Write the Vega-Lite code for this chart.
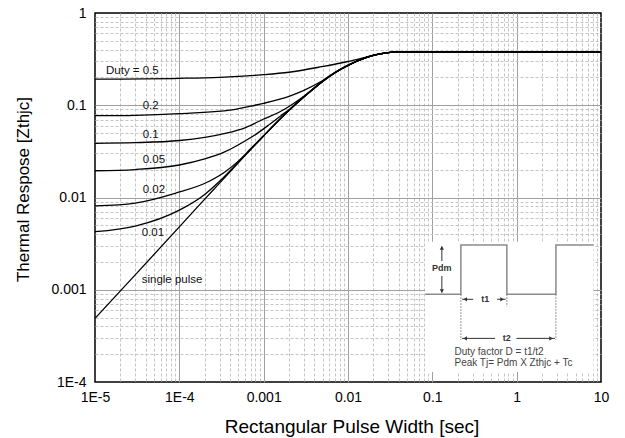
{
  "$schema": "https://vega.github.io/schema/vega-lite/v6.json",
  "width": 506,
  "height": 369,
  "autosize": "none",
  "padding": {"left": 95, "top": 13, "right": 24, "bottom": 56},
  "background": "white",
  "config": {
    "font": "Liberation Sans",
    "view": {"stroke": "#000", "strokeWidth": 1.5}
  },
  "datasets": {
    "curves": [
      {"s": "single", "x": 0.00001, "y": 0.00049},
      {"s": "single", "x": 0.00003, "y": 0.00145},
      {"s": "single", "x": 0.0001, "y": 0.0048},
      {"s": "single", "x": 0.0002, "y": 0.0096},
      {"s": "single", "x": 0.0003, "y": 0.0143},
      {"s": "single", "x": 0.0005, "y": 0.0238},
      {"s": "single", "x": 0.001, "y": 0.0465},
      {"s": "single", "x": 0.0015, "y": 0.068},
      {"s": "single", "x": 0.002, "y": 0.088},
      {"s": "single", "x": 0.003, "y": 0.123},
      {"s": "single", "x": 0.005, "y": 0.181},
      {"s": "single", "x": 0.007, "y": 0.225},
      {"s": "single", "x": 0.01, "y": 0.27},
      {"s": "single", "x": 0.016, "y": 0.3255},
      {"s": "single", "x": 0.02, "y": 0.3465},
      {"s": "single", "x": 0.0275, "y": 0.367},
      {"s": "single", "x": 0.035, "y": 0.3765},
      {"s": "single", "x": 0.05, "y": 0.3798},
      {"s": "single", "x": 0.07, "y": 0.38},
      {"s": "single", "x": 10, "y": 0.38},

      {"s": "0.01", "x": 0.00001, "y": 0.00426},
      {"s": "0.01", "x": 0.00003, "y": 0.0049},
      {"s": "0.01", "x": 0.0001, "y": 0.0073},
      {"s": "0.01", "x": 0.0002, "y": 0.0108},
      {"s": "0.01", "x": 0.0003, "y": 0.015},
      {"s": "0.01", "x": 0.0005, "y": 0.0241},
      {"s": "0.01", "x": 0.001, "y": 0.0467},
      {"s": "0.01", "x": 0.0015, "y": 0.0682},
      {"s": "0.01", "x": 0.002, "y": 0.0882},
      {"s": "0.01", "x": 0.003, "y": 0.1232},
      {"s": "0.01", "x": 0.005, "y": 0.1812},
      {"s": "0.01", "x": 0.007, "y": 0.2252},
      {"s": "0.01", "x": 0.01, "y": 0.2702},
      {"s": "0.01", "x": 0.016, "y": 0.3257},
      {"s": "0.01", "x": 0.02, "y": 0.3467},
      {"s": "0.01", "x": 0.0275, "y": 0.3671},
      {"s": "0.01", "x": 0.035, "y": 0.3766},
      {"s": "0.01", "x": 0.05, "y": 0.3798},
      {"s": "0.01", "x": 0.07, "y": 0.38},
      {"s": "0.01", "x": 10, "y": 0.38},

      {"s": "0.02", "x": 0.00001, "y": 0.0081},
      {"s": "0.02", "x": 0.00003, "y": 0.0087},
      {"s": "0.02", "x": 0.000089, "y": 0.0111},
      {"s": "0.02", "x": 0.00022, "y": 0.0148},
      {"s": "0.02", "x": 0.00035, "y": 0.019},
      {"s": "0.02", "x": 0.0005, "y": 0.0248},
      {"s": "0.02", "x": 0.0007, "y": 0.0337},
      {"s": "0.02", "x": 0.001, "y": 0.0469},
      {"s": "0.02", "x": 0.0015, "y": 0.0684},
      {"s": "0.02", "x": 0.002, "y": 0.0884},
      {"s": "0.02", "x": 0.003, "y": 0.1234},
      {"s": "0.02", "x": 0.005, "y": 0.1814},
      {"s": "0.02", "x": 0.007, "y": 0.2254},
      {"s": "0.02", "x": 0.01, "y": 0.2704},
      {"s": "0.02", "x": 0.016, "y": 0.3258},
      {"s": "0.02", "x": 0.02, "y": 0.3468},
      {"s": "0.02", "x": 0.0275, "y": 0.3672},
      {"s": "0.02", "x": 0.035, "y": 0.3766},
      {"s": "0.02", "x": 0.05, "y": 0.3798},
      {"s": "0.02", "x": 0.07, "y": 0.38},
      {"s": "0.02", "x": 10, "y": 0.38},

      {"s": "0.05", "x": 0.00001, "y": 0.0195},
      {"s": "0.05", "x": 0.00003, "y": 0.0201},
      {"s": "0.05", "x": 0.0001, "y": 0.0225},
      {"s": "0.05", "x": 0.0002, "y": 0.0262},
      {"s": "0.05", "x": 0.00035, "y": 0.0314},
      {"s": "0.05", "x": 0.0006, "y": 0.041},
      {"s": "0.05", "x": 0.000865, "y": 0.0505},
      {"s": "0.05", "x": 0.0012, "y": 0.063},
      {"s": "0.05", "x": 0.0016, "y": 0.077},
      {"s": "0.05", "x": 0.002, "y": 0.0895},
      {"s": "0.05", "x": 0.003, "y": 0.1237},
      {"s": "0.05", "x": 0.005, "y": 0.1815},
      {"s": "0.05", "x": 0.007, "y": 0.2255},
      {"s": "0.05", "x": 0.01, "y": 0.2705},
      {"s": "0.05", "x": 0.016, "y": 0.3259},
      {"s": "0.05", "x": 0.02, "y": 0.3469},
      {"s": "0.05", "x": 0.0275, "y": 0.3673},
      {"s": "0.05", "x": 0.035, "y": 0.3767},
      {"s": "0.05", "x": 0.05, "y": 0.3798},
      {"s": "0.05", "x": 0.07, "y": 0.38},
      {"s": "0.05", "x": 10, "y": 0.38},

      {"s": "0.1", "x": 0.00001, "y": 0.0387},
      {"s": "0.1", "x": 0.00003, "y": 0.0393},
      {"s": "0.1", "x": 0.0001, "y": 0.0415},
      {"s": "0.1", "x": 0.00035, "y": 0.0496},
      {"s": "0.1", "x": 0.0006, "y": 0.057},
      {"s": "0.1", "x": 0.001, "y": 0.071},
      {"s": "0.1", "x": 0.0015, "y": 0.0835},
      {"s": "0.1", "x": 0.002, "y": 0.097},
      {"s": "0.1", "x": 0.0025, "y": 0.111},
      {"s": "0.1", "x": 0.003, "y": 0.1255},
      {"s": "0.1", "x": 0.004, "y": 0.154},
      {"s": "0.1", "x": 0.005, "y": 0.182},
      {"s": "0.1", "x": 0.007, "y": 0.2258},
      {"s": "0.1", "x": 0.01, "y": 0.2708},
      {"s": "0.1", "x": 0.016, "y": 0.326},
      {"s": "0.1", "x": 0.02, "y": 0.347},
      {"s": "0.1", "x": 0.0275, "y": 0.3674},
      {"s": "0.1", "x": 0.035, "y": 0.3767},
      {"s": "0.1", "x": 0.05, "y": 0.3798},
      {"s": "0.1", "x": 0.07, "y": 0.38},
      {"s": "0.1", "x": 10, "y": 0.38},

      {"s": "0.2", "x": 0.00001, "y": 0.077},
      {"s": "0.2", "x": 0.00003, "y": 0.0778},
      {"s": "0.2", "x": 0.0001, "y": 0.081},
      {"s": "0.2", "x": 0.00042, "y": 0.089},
      {"s": "0.2", "x": 0.00079, "y": 0.1},
      {"s": "0.2", "x": 0.001, "y": 0.105},
      {"s": "0.2", "x": 0.002, "y": 0.125},
      {"s": "0.2", "x": 0.003, "y": 0.145},
      {"s": "0.2", "x": 0.0049, "y": 0.183},
      {"s": "0.2", "x": 0.007, "y": 0.2265},
      {"s": "0.2", "x": 0.01, "y": 0.2725},
      {"s": "0.2", "x": 0.016, "y": 0.327},
      {"s": "0.2", "x": 0.02, "y": 0.3475},
      {"s": "0.2", "x": 0.0275, "y": 0.3676},
      {"s": "0.2", "x": 0.035, "y": 0.3767},
      {"s": "0.2", "x": 0.05, "y": 0.3798},
      {"s": "0.2", "x": 0.07, "y": 0.38},
      {"s": "0.2", "x": 10, "y": 0.38},

      {"s": "0.5", "x": 0.00001, "y": 0.192},
      {"s": "0.5", "x": 0.0001, "y": 0.196},
      {"s": "0.5", "x": 0.0003, "y": 0.201},
      {"s": "0.5", "x": 0.00079, "y": 0.211},
      {"s": "0.5", "x": 0.001, "y": 0.2145},
      {"s": "0.5", "x": 0.002, "y": 0.228},
      {"s": "0.5", "x": 0.0049, "y": 0.262},
      {"s": "0.5", "x": 0.01, "y": 0.298},
      {"s": "0.5", "x": 0.016, "y": 0.33},
      {"s": "0.5", "x": 0.02, "y": 0.35},
      {"s": "0.5", "x": 0.0275, "y": 0.3685},
      {"s": "0.5", "x": 0.035, "y": 0.3768},
      {"s": "0.5", "x": 0.05, "y": 0.3799},
      {"s": "0.5", "x": 0.07, "y": 0.38},
      {"s": "0.5", "x": 10, "y": 0.38}
    ],
    "labels": [
      {"x": 0.0000135, "y": 0.235, "label": "Duty = 0.5"},
      {"x": 0.0000368, "y": 0.098, "label": "0.2"},
      {"x": 0.0000368, "y": 0.0472, "label": "0.1"},
      {"x": 0.0000368, "y": 0.0253, "label": "0.05"},
      {"x": 0.0000368, "y": 0.01197, "label": "0.02"},
      {"x": 0.0000358, "y": 0.00409, "label": "0.01"},
      {"x": 0.0000358, "y": 0.00126, "label": "single pulse"}
    ],
    "box": [
      {"x": 0.0822, "x2": 8.15, "y": 0.000128, "y2": 0.00332}
    ],
    "wave": [
      {"o": 1, "x": 0.0822, "y": 0.000893},
      {"o": 2, "x": 0.218, "y": 0.000893},
      {"o": 3, "x": 0.218, "y": 0.00306},
      {"o": 4, "x": 0.765, "y": 0.00306},
      {"o": 5, "x": 0.765, "y": 0.000893},
      {"o": 6, "x": 2.92, "y": 0.000893},
      {"o": 7, "x": 2.92, "y": 0.00306},
      {"o": 8, "x": 8.15, "y": 0.00306}
    ],
    "arrows": [
      {"x": 0.1297, "x2": 0.1297, "y": 0.00295, "y2": 0.00205},
      {"x": 0.1297, "x2": 0.1297, "y": 0.00141, "y2": 0.00093},
      {"x": 0.225, "x2": 0.305, "y": 0.000788, "y2": 0.000788},
      {"x": 0.587, "x2": 0.74, "y": 0.000788, "y2": 0.000788},
      {"x": 0.225, "x2": 0.556, "y": 0.000297, "y2": 0.000297},
      {"x": 0.9945, "x2": 2.85, "y": 0.000297, "y2": 0.000297}
    ],
    "heads": [
      {"x": 0.1297, "y": 0.00284, "shape": "triangle-up"},
      {"x": 0.1297, "y": 0.00097, "shape": "triangle-down"},
      {"x": 0.245, "y": 0.000788, "shape": "triangle-left"},
      {"x": 0.673, "y": 0.000788, "shape": "triangle-right"},
      {"x": 0.245, "y": 0.000297, "shape": "triangle-left"},
      {"x": 2.56, "y": 0.000297, "shape": "triangle-right"}
    ],
    "dots": [
      {"x": 0.218, "x2": 0.218, "y": 0.000893, "y2": 0.000285},
      {"x": 0.765, "x2": 0.765, "y": 0.000893, "y2": 0.000656},
      {"x": 2.92, "x2": 2.92, "y": 0.000893, "y2": 0.000285}
    ],
    "insetLabels": [
      {"x": 0.1297, "y": 0.001707, "label": "Pdm"},
      {"x": 0.423, "y": 0.000788, "label": "t1"},
      {"x": 0.765, "y": 0.000297, "label": "t2"}
    ],
    "notes": [
      {"x": 0.183, "y": 0.00021, "label": "Duty factor D = t1/t2"},
      {"x": 0.183, "y": 0.0001595, "label": "Peak Tj= Pdm X Zthjc + Tc"}
    ]
  },
  "encoding": {
    "x": {
      "field": "x",
      "type": "quantitative",
      "scale": {"type": "log", "domain": [0.00001, 10], "nice": false},
      "axis": {
        "title": "Rectangular Pulse Width [sec]",
        "values": [0.00001, 0.00002, 0.00003, 0.00004, 0.00005, 0.00006, 0.00007, 0.00008, 0.00009,
                   0.0001, 0.0002, 0.0003, 0.0004, 0.0005, 0.0006, 0.0007, 0.0008, 0.0009,
                   0.001, 0.002, 0.003, 0.004, 0.005, 0.006, 0.007, 0.008, 0.009,
                   0.01, 0.02, 0.03, 0.04, 0.05, 0.06, 0.07, 0.08, 0.09,
                   0.1, 0.2, 0.3, 0.4, 0.5, 0.6, 0.7, 0.8, 0.9,
                   1, 2, 3, 4, 5, 6, 7, 8, 9, 10],
        "labelExpr": "abs(log(datum.value)/LN10 - round(log(datum.value)/LN10)) > 0.001 ? '' : datum.value < 0.00005 ? '1E-5' : datum.value < 0.0005 ? '1E-4' : datum.value < 0.005 ? '0.001' : datum.value < 0.05 ? '0.01' : datum.value < 0.5 ? '0.1' : datum.value < 5 ? '1' : '10'",
        "grid": true,
        "gridColor": {"condition": {"test": "abs(log(datum.value)/LN10 - round(log(datum.value)/LN10)) < 0.001", "value": "#a0a0a0"}, "value": "#c4c4c4"},
        "gridDash": {"condition": {"test": "abs(log(datum.value)/LN10 - round(log(datum.value)/LN10)) < 0.001", "value": []}, "value": [3, 2]},
        "gridOpacity": {"condition": {"test": "datum.value < 0.000011 || datum.value > 9.9", "value": 0}, "value": 1},
        "gridWidth": 1,
        "ticks": false,
        "domain": false,
        "labelFlush": false,
        "labelOverlap": false,
        "labelBound": false,
        "labelPadding": 8,
        "labelFontSize": 14,
        "labelColor": "#000",
        "labelFont": "Liberation Sans",
        "titleFont": "Liberation Sans",
        "titleFontSize": 19,
        "titleFontWeight": "normal",
        "titleColor": "#000",
        "titleX": 256.5,
        "titleY": 50,
        "titleAlign": "center",
        "titleBaseline": "alphabetic"
      }
    },
    "y": {
      "field": "y",
      "type": "quantitative",
      "scale": {"type": "log", "domain": [0.0001, 1], "nice": false},
      "axis": {
        "title": "Thermal Respose [Zthjc]",
        "values": [0.0001, 0.0002, 0.0003, 0.0004, 0.0005, 0.0006, 0.0007, 0.0008, 0.0009,
                   0.001, 0.002, 0.003, 0.004, 0.005, 0.006, 0.007, 0.008, 0.009,
                   0.01, 0.02, 0.03, 0.04, 0.05, 0.06, 0.07, 0.08, 0.09,
                   0.1, 0.2, 0.3, 0.4, 0.5, 0.6, 0.7, 0.8, 0.9, 1],
        "labelExpr": "abs(log(datum.value)/LN10 - round(log(datum.value)/LN10)) > 0.001 ? '' : datum.value < 0.0005 ? '1E-4' : datum.value < 0.005 ? '0.001' : datum.value < 0.05 ? '0.01' : datum.value < 0.5 ? '0.1' : '1'",
        "grid": true,
        "gridColor": {"condition": {"test": "abs(log(datum.value)/LN10 - round(log(datum.value)/LN10)) < 0.001", "value": "#a0a0a0"}, "value": "#c4c4c4"},
        "gridDash": {"condition": {"test": "abs(log(datum.value)/LN10 - round(log(datum.value)/LN10)) < 0.001", "value": []}, "value": [3, 2]},
        "gridOpacity": {"condition": {"test": "datum.value < 0.00011 || datum.value > 0.99", "value": 0}, "value": 1},
        "gridWidth": 1,
        "ticks": false,
        "domain": false,
        "labelFlush": false,
        "labelOverlap": false,
        "labelBound": false,
        "labelPadding": 9,
        "labelFontSize": 14,
        "labelColor": "#000",
        "labelFont": "Liberation Sans",
        "titleFont": "Liberation Sans",
        "titleFontSize": 17,
        "titleFontWeight": "normal",
        "titleColor": "#000",
        "titleX": -67,
        "titleY": 176,
        "titleAngle": -90,
        "titleAlign": "center",
        "titleBaseline": "alphabetic"
      }
    }
  },
  "layer": [
    {
      "data": {"name": "box"},
      "mark": {"type": "rect", "fill": "white", "stroke": null},
      "encoding": {"x2": {"field": "x2"}, "y2": {"field": "y2"}}
    },
    {
      "data": {"name": "curves"},
      "mark": {"type": "line", "color": "#000", "strokeWidth": 1.3, "interpolate": "monotone"},
      "encoding": {"detail": {"field": "s", "type": "nominal"}}
    },
    {
      "data": {"name": "wave"},
      "mark": {"type": "line", "color": "#8a8a8a", "strokeWidth": 1.5},
      "encoding": {"order": {"field": "o", "type": "quantitative"}}
    },
    {
      "data": {"name": "dots"},
      "mark": {"type": "rule", "color": "#777", "strokeWidth": 1, "strokeDash": [1.5, 1.5]},
      "encoding": {"x2": {"field": "x2"}, "y2": {"field": "y2"}}
    },
    {
      "data": {"name": "arrows"},
      "mark": {"type": "rule", "color": "#333", "strokeWidth": 1},
      "encoding": {"x2": {"field": "x2"}, "y2": {"field": "y2"}}
    },
    {
      "data": {"name": "heads"},
      "mark": {"type": "point", "filled": true, "color": "#333", "size": 18, "opacity": 1},
      "encoding": {"shape": {"field": "shape", "type": "nominal", "scale": null}}
    },
    {
      "data": {"name": "labels"},
      "mark": {"type": "text", "align": "left", "baseline": "middle", "fontSize": 11.5, "color": "#111", "font": "Liberation Sans"},
      "encoding": {"text": {"field": "label"}}
    },
    {
      "data": {"name": "insetLabels"},
      "mark": {"type": "text", "align": "center", "baseline": "middle", "fontSize": 9, "fontWeight": "bold", "color": "#333", "font": "Liberation Sans"},
      "encoding": {"text": {"field": "label"}}
    },
    {
      "data": {"name": "notes"},
      "mark": {"type": "text", "align": "left", "baseline": "middle", "fontSize": 10, "color": "#444", "font": "Liberation Sans"},
      "encoding": {"text": {"field": "label"}}
    }
  ]
}
